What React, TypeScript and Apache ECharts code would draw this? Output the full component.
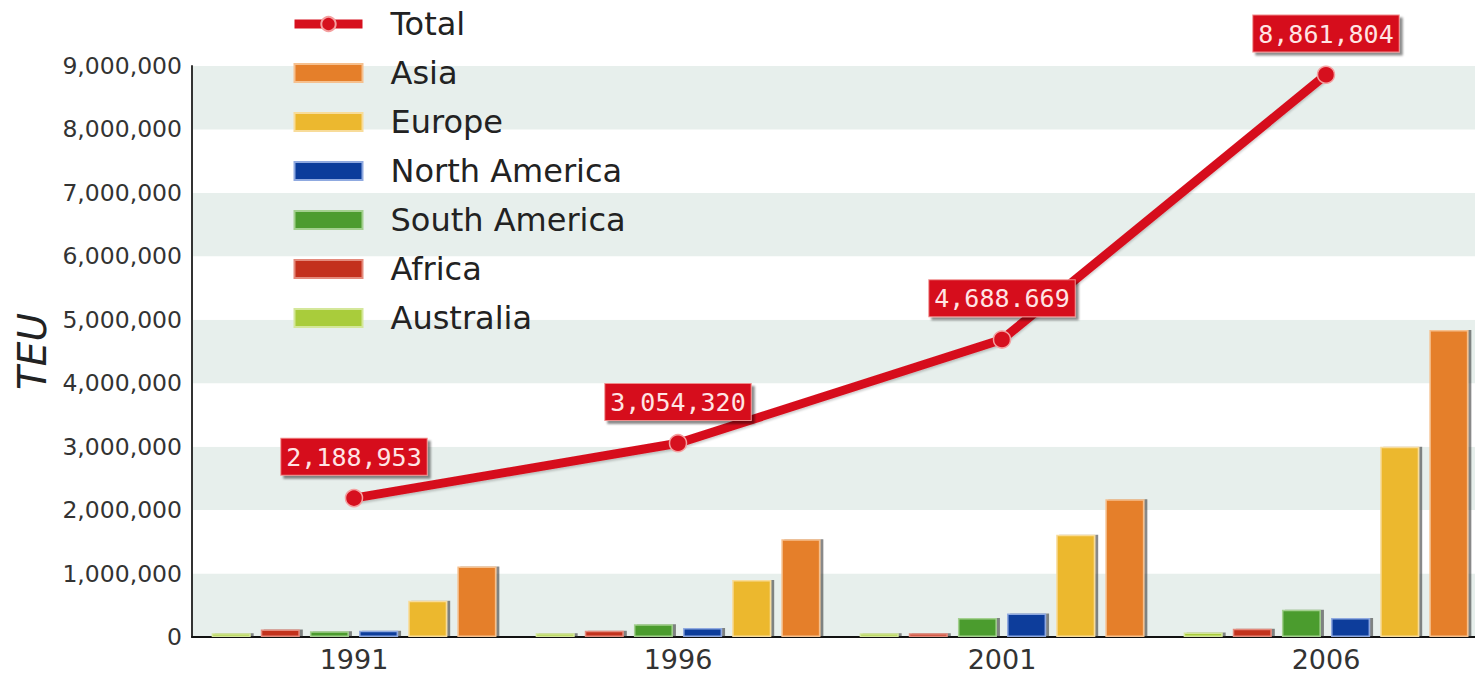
import React, { useEffect, useRef } from "react";
import * as echarts from "echarts";

const years = ["1991", "1996", "2001", "2006"];
const australia = [60000, 60000, 60000, 70000];
const africa = [120000, 100000, 60000, 130000];
const southAmerica = [90000, 200000, 300000, 430000];
const northAmerica = [100000, 140000, 370000, 300000];
const europe = [570000, 900000, 1610000, 3000000];
const asia = [1110000, 1540000, 2170000, 4840000];
const total = [2188953, 3054320, 4688669, 8861804];
const totalLabels = ["2,188,953", "3,054,320", "4,688.669", "8,861,804"];
const yTickLabels = [
  "0", "1,000,000", "2,000,000", "3,000,000", "4,000,000",
  "5,000,000", "6,000,000", "7,000,000", "8,000,000", "9,000,000",
];
const legendOrder = ["Total", "Asia", "Europe", "North America", "South America", "Africa", "Australia"];

const FONT = "DejaVu Sans";

function barSeries(name: string, data: number[], color: string, edge: string) {
  return {
    name,
    type: "bar",
    data,
    barWidth: 39,
    barGap: "26%",
    itemStyle: {
      color,
      borderColor: edge,
      borderWidth: 1.5,
      shadowColor: "rgba(40,40,40,0.55)",
      shadowOffsetX: 3,
      shadowOffsetY: 0,
      shadowBlur: 1,
    },
    z: 2,
  };
}

export default function App() {
  const ref = useRef<HTMLDivElement>(null);
  useEffect(() => {
    if (!ref.current) return;
    const chart = echarts.init(ref.current, null, { renderer: "svg" });
    chart.setOption({
      animation: false,
      backgroundColor: "#ffffff",
      textStyle: { fontFamily: FONT },
      legend: {
        orient: "vertical",
        left: 285,
        top: 3,
        itemWidth: 68,
        itemHeight: 18,
        itemGap: 17,
        selectedMode: false,
        data: legendOrder.map((n) => (n === "Total" ? { name: n } : { name: n, icon: "rect" })),
        lineStyle: { width: 9 },
        textStyle: {
          fontFamily: FONT,
          fontSize: 32,
          lineHeight: 32,
          color: "#222",
          padding: [0, 0, 0, 23],
        },
      },
      grid: { left: 192, right: 0, top: 66, bottom: 44, containLabel: false },
      xAxis: {
        type: "category",
        data: years,
        axisLine: { show: true, lineStyle: { color: "#111", width: 2 } },
        axisTick: { show: false },
        axisLabel: { fontFamily: FONT, fontSize: 27, color: "#333", margin: 9 },
      },
      yAxis: {
        type: "value",
        min: 0,
        max: 9000000,
        interval: 1000000,
        name: "TEU",
        nameLocation: "middle",
        nameGap: 137,
        nameRotate: 90,
        nameTextStyle: { fontFamily: FONT, fontSize: 39, fontStyle: "italic", color: "#222" },
        axisLine: { show: true, lineStyle: { color: "#333", width: 2 } },
        axisTick: { show: false },
        splitLine: { show: false },
        splitArea: { show: true, areaStyle: { color: ["#e7efec", "#ffffff"] } },
        axisLabel: {
          fontFamily: FONT,
          fontSize: 23.5,
          color: "#333",
          margin: 10,
          formatter: (v: number) => yTickLabels[Math.round(v / 1000000)] ?? "",
        },
      },
      series: [
        barSeries("Australia", australia, "#a9cc3b", "#d4e79a"),
        barSeries("Africa", africa, "#c3301d", "#e48a7c"),
        barSeries("South America", southAmerica, "#4c9c2f", "#a3d08f"),
        barSeries("North America", northAmerica, "#0b3c9b", "#8fa9e0"),
        barSeries("Europe", europe, "#ecb82f", "#f8dc9a"),
        barSeries("Asia", asia, "#e57f2a", "#f6c08e"),
        {
          name: "Total",
          type: "line",
          data: total,
          z: 5,
          symbol: "circle",
          symbolSize: 17,
          lineStyle: {
            color: "#d6101e",
            width: 9,
            shadowColor: "rgba(0,0,0,0.2)",
            shadowOffsetY: 2,
            shadowBlur: 2,
          },
          itemStyle: { color: "#d6101e", borderColor: "#f4a0a0", borderWidth: 1.5 },
          label: {
            show: true,
            position: "top",
            distance: 14,
            formatter: (p: any) => totalLabels[p.dataIndex],
            fontFamily: "DejaVu Sans Mono",
            fontSize: 25,
            color: "#ffe4e4",
            backgroundColor: "#d6101e",
            borderColor: "#f08c8c",
            borderWidth: 1,
            padding: [6, 5, 5, 5],
            shadowColor: "rgba(0,0,0,0.45)",
            shadowOffsetX: 3,
            shadowOffsetY: 3,
            shadowBlur: 2,
          },
        },
      ],
    });
    return () => chart.dispose();
  }, []);
  return (
    <div
      style={{
        position: "fixed",
        left: 0,
        top: 0,
        width: 1475,
        height: 681,
        overflow: "hidden",
        background: "#fff",
      }}
    >
      <div ref={ref} style={{ width: 1488, height: 681 }} />
    </div>
  );
}
